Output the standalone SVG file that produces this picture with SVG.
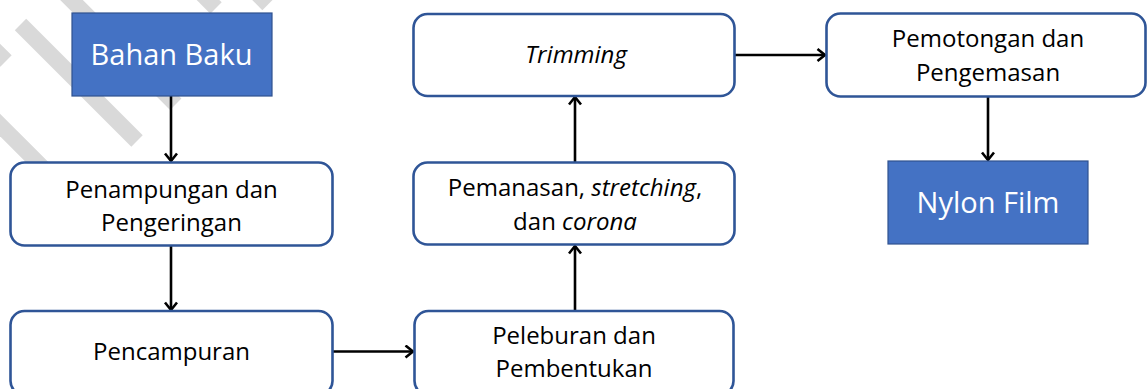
<svg xmlns="http://www.w3.org/2000/svg" width="1147" height="389" viewBox="0 0 1147 389">
  <style>
    .stripe { stroke: #d9d9d9; stroke-width: 16; stroke-linecap: butt; fill: none; }
    .box { fill: #ffffff; stroke: #2F5597; stroke-width: 2.6; }
    .blue { fill: #4472C4; stroke: #2F528F; stroke-width: 1.2; }
    .t { font-family: "Open Sans", "Liberation Sans", sans-serif; font-size: 24px; fill: #000; text-anchor: middle; }
    .tw { font-family: "Open Sans", "Liberation Sans", sans-serif; font-size: 29px; fill: #ffffff; text-anchor: middle; }
    .i { font-style: italic; }
    .conn { stroke: #000; stroke-width: 2.6; fill: none; marker-end: url(#arr); }
  </style>
  <defs>
    <marker id="arr" markerUnits="userSpaceOnUse" markerWidth="16" markerHeight="16" refX="9" refY="7" orient="auto">
      <path d="M1.5,1 L9,7 L1.5,13" fill="none" stroke="#000" stroke-width="2.6"/>
    </marker>
  </defs>
  <rect width="1147" height="389" fill="#ffffff"/>
  <g id="watermark">
    <line class="stripe" x1="41.5" y1="-30" x2="175.75" y2="104.25"/>
    <line class="stripe" x1="20.5" y1="24.5" x2="137" y2="141"/>
    <line class="stripe" x1="-30" y1="25" x2="6" y2="61"/>
    <line class="stripe" x1="-20" y1="105" x2="80" y2="205"/>
    <line class="stripe" x1="188" y1="-20" x2="216" y2="8"/>
    <line class="stripe" x1="243.5" y1="-20" x2="268" y2="4.5"/>
  </g>
  <g id="connectors">
    <line class="conn" x1="171" y1="96" x2="171" y2="161"/>
    <line class="conn" x1="171" y1="246" x2="171" y2="310"/>
    <line class="conn" x1="333" y1="351.5" x2="413" y2="351.5"/>
    <line class="conn" x1="575" y1="311" x2="575" y2="246"/>
    <line class="conn" x1="575" y1="162" x2="575" y2="97"/>
    <line class="conn" x1="735" y1="55" x2="825" y2="55"/>
    <line class="conn" x1="988" y1="97" x2="988" y2="160"/>
  </g>
  <g id="bahan-baku">
    <rect class="blue" x="72" y="13" width="200" height="83"/>
    <text class="tw" x="171.5" y="65">Bahan Baku</text>
  </g>
  <g id="penampungan">
    <rect class="box" x="10.5" y="162.5" width="322" height="83" rx="14"/>
    <text class="t" x="171.5" y="198">Penampungan dan</text>
    <text class="t" x="171.5" y="231">Pengeringan</text>
  </g>
  <g id="pencampuran">
    <rect class="box" x="10.5" y="311" width="322" height="84" rx="14"/>
    <text class="t" x="171.5" y="360">Pencampuran</text>
  </g>
  <g id="peleburan">
    <rect class="box" x="414.5" y="311" width="319" height="84" rx="14"/>
    <text class="t" x="574" y="344">Peleburan dan</text>
    <text class="t" x="574" y="377">Pembentukan</text>
  </g>
  <g id="pemanasan">
    <rect class="box" x="413.5" y="162.5" width="321" height="82" rx="14"/>
    <text class="t" x="575" y="196">Pemanasan, <tspan class="i">stretching</tspan>,</text>
    <text class="t" x="575" y="230">dan <tspan class="i">corona</tspan></text>
  </g>
  <g id="trimming">
    <rect class="box" x="413.5" y="14" width="321" height="82" rx="14"/>
    <text class="t i" x="576" y="63">Trimming</text>
  </g>
  <g id="pemotongan">
    <rect class="box" x="826.5" y="13.5" width="319" height="83" rx="14"/>
    <text class="t" x="988" y="47">Pemotongan dan</text>
    <text class="t" x="988" y="81">Pengemasan</text>
  </g>
  <g id="nylon-film">
    <rect class="blue" x="888" y="161" width="200" height="83"/>
    <text class="tw" x="988" y="213">Nylon Film</text>
  </g>
</svg>
